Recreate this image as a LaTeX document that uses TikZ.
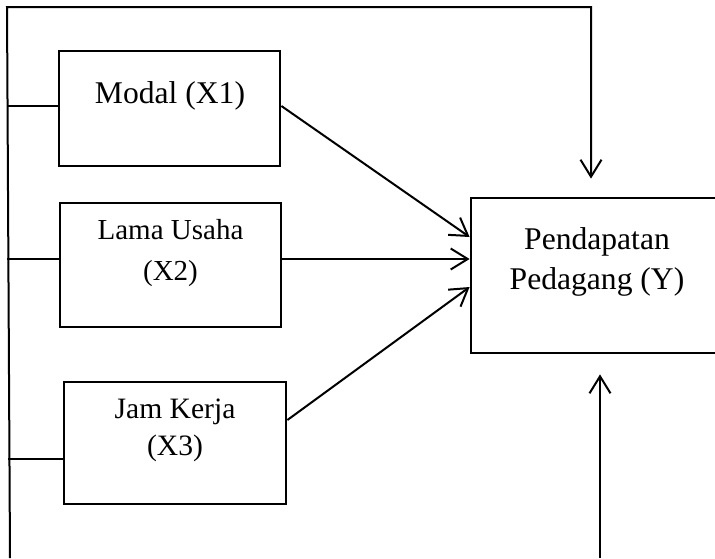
\documentclass[tikz,border=0pt]{standalone}
\usepackage{fontspec}
\setmainfont{Liberation Serif}
\usetikzlibrary{arrows.meta}
\tikzset{
	varbox/.style={draw, line width=1.4pt, inner sep=0pt},
	varlbl/.style={align=center, inner sep=0pt},
	conn/.style={line width=1pt},
}
\begin{document}
\begin{tikzpicture}[x=0.5pt, y=-0.5pt, line join=miter, >={Straight Barb[length=8.5pt,width=10.5pt,line width=1pt]}]
			\useasboundingbox (0,0) rectangle (715,558);
			% boxes
			\node[varbox, minimum width=110.5pt, minimum height=57.5pt] (x1) at (169.5,108.5) {};
			\node[varbox, minimum width=110.5pt, minimum height=62pt] (x2) at (170.5,265) {};
			\node[varbox, minimum width=111pt, minimum height=61pt] (x3) at (175,443) {};
			\node[varbox, minimum width=126pt, minimum height=77.5pt] (y) at (597,275.5) {};
			% labels
			\node[varlbl, font=\fontsize{15.8}{20}\selectfont] (x1t) at (170,96) {Modal (X1)};
			\node[varlbl, font=\fontsize{14.5}{20.5}\selectfont] (x2t) at (170.5,253) {Lama Usaha\\(X2)};
			\node[varlbl, font=\fontsize{14.8}{18.5}\selectfont] (x3t) at (175,430) {Jam Kerja\\(X3)};
			\node[varlbl, font=\fontsize{15.8}{20}\selectfont] (yt) at (597,262) {Pendapatan\\Pedagang (Y)};
			% frame lines
			\coordinate (tl) at (7,7);
			\coordinate (bl) at (10,558);
			\coordinate (br) at (600,558);
			\draw[conn,->] (bl) -- (tl) -| ([xshift=-3pt,yshift=9pt]y.north);
			\draw[conn,->] (br) -- ([xshift=1.5pt,yshift=-10pt]y.south);
			\draw[conn] ([yshift=1.25pt]x1.west) -- ++(-51,0);
			\draw[conn] ([yshift=3pt]x2.west) -- ++(-52,0);
			\draw[conn] ([yshift=-8pt]x3.west) -- ++(-55,0);
			% arrows into Y
			\draw[conn,->] ([yshift=1.25pt]x1.east) -- ([yshift=19.25pt]y.west);
			\draw[conn,->] ([yshift=3pt]x2.east) -- ([yshift=8.25pt]y.west);
			\draw[conn,->] ([yshift=11.5pt]x3.east) -- ([yshift=-5.75pt]y.west);
		\end{tikzpicture}
\end{document}
